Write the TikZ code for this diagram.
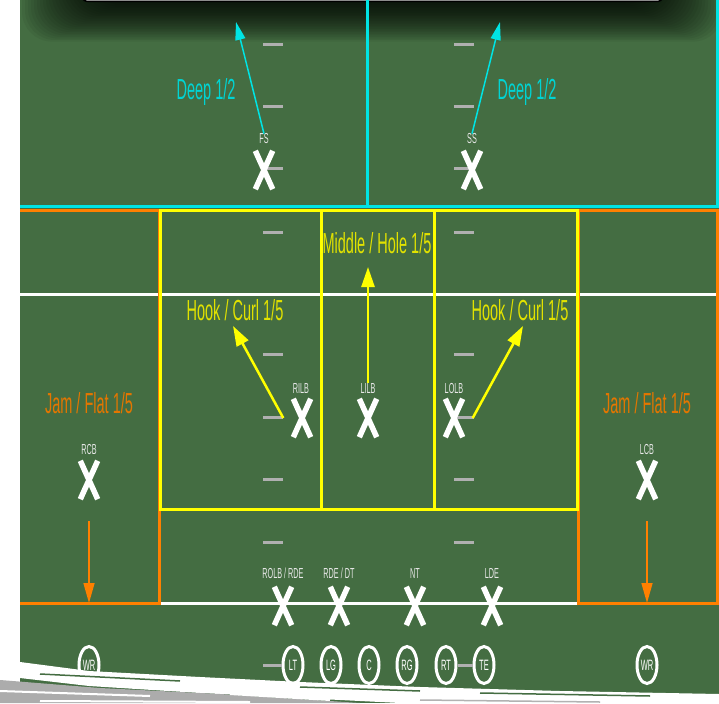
\documentclass[tikz,border=0pt]{standalone}
\usepackage{fontspec}
\setmainfont[FakeStretch=0.5]{Liberation Sans}
\usetikzlibrary{arrows.meta,shapes.geometric}
\definecolor{field}{RGB}{68,109,66}
\definecolor{cyanl}{RGB}{0,228,228}
\definecolor{cyant}{RGB}{0,212,212}
\definecolor{yell}{RGB}{255,255,0}
\definecolor{yelt}{RGB}{226,226,0}
\definecolor{oran}{RGB}{255,128,0}
\definecolor{orant}{RGB}{228,118,0}
\definecolor{hashc}{RGB}{176,176,176}
\definecolor{lblc}{RGB}{232,232,232}
\begin{document}
\begin{tikzpicture}[x=1pt,y=-1pt,
  big/.style={font=\fontsize{29}{30}\selectfont, inner sep=0pt, anchor=base},
  small/.style={font=\fontsize{14.5}{15}\selectfont, text=lblc, inner sep=0pt, anchor=base},
  xline/.style={draw=white, line width=5.5pt},
  xm/.style={inner sep=0pt, minimum width=17pt, minimum height=38pt,
    append after command={(\tikzlastnode.south west) edge[xline] (\tikzlastnode.north east)
      (\tikzlastnode.north west) edge[xline] (\tikzlastnode.south east)}},
  off/.style={ellipse, draw=white, line width=3pt, fill=field, minimum width=20pt,
    minimum height=37pt, inner sep=0pt, font=\fontsize{15}{15}\selectfont, text=white},
  hash/.style={draw=hashc, line width=3pt},
  carrow/.style={draw=cyanl, line width=1.5pt, -{Triangle[length=18pt,width=10pt]}},
  yarrow/.style={draw=yell, line width=2.5pt, -{Triangle[length=20pt,width=13pt]}},
  oarrow/.style={draw=oran, line width=1.5pt, -{Triangle[length=20pt,width=11pt]}},
  zone/.style={line width=3pt}
]
\useasboundingbox (0,0) rectangle (719,703);
\fill[white] (0,0) rectangle (719,703);
\fill[field] (20,0) rectangle (719,703);
% top shadow and banner
\foreach \i in {1,...,26}
  \fill[black, opacity=0.05, rounded corners=30pt] (100-3*\i,-80) rectangle (645+3*\i,1.6*\i);
\draw[black, line width=1.5pt, fill=gray!30, rounded corners=4pt] (83,-20) rectangle (662,1.5);
% zones
\draw[cyanl, zone] (15,-5) rectangle (717,207);
\draw[cyanl, zone] (367,-5) -- (367,207);
\draw[white, zone] (20,294) -- (719,294);
\draw[white, zone] (160,603) -- (578,603);
\draw[oran, zone] (15,211) rectangle (159,603);
\draw[oran, zone] (578,211) rectangle (717,603);
\draw[yell, zone] (160,211) rectangle (577,509);
\draw[yell, zone] (321,211) -- (321,509);
\draw[yell, zone] (434,211) -- (434,509);
\fill[white] (0,0) rectangle (20,650);
% hash marks
\foreach \y in {45,107,169,232,354,417,479,542} {
  \draw[hash] (263,\y) -- (283,\y);
  \draw[hash] (454,\y) -- (474,\y);
}
% safeties
\node[xm] (fs) at (264,170) {};
\node[xm] (ss) at (472,170) {};
\node[small] (fsl) at (264,144) {FS};
\node[small] (ssl) at (472,144) {SS};
\coordinate (fstip) at (236,22);
\coordinate (sstip) at (500,22);
\draw[carrow] (fsl.north) -- (fstip);
\draw[carrow] (ssl.north) -- (sstip);
\node[big, text=cyant] (deepl) at (206,100) {Deep 1/2};
\node[big, text=cyant] (deepr) at (527,100) {Deep 1/2};
% linebackers
\node[xm] (rilb) at (302,418) {};
\node[xm] (lilb) at (368,418) {};
\node[xm] (lolb) at (454,418) {};
\node[small] (rilbl) at (301,393) {RILB};
\node[small] (lilbl) at (368,393) {LILB};
\node[small] (lolbl) at (454,393) {LOLB};
\coordinate (hookl) at (233,326);
\coordinate (hookr) at (523,326);
\coordinate (hole) at (368,267);
\draw[yarrow] ([xshift=-10pt]rilb.west) -- (hookl);
\draw[yarrow] ([xshift=10pt]lolb.east) -- (hookr);
\draw[yarrow] (lilbl.north) -- (hole);
\node[big, text=yelt] (midt) at (377,253) {Middle / Hole 1/5};
\node[big, text=yelt] (hooklt) at (235,320) {Hook / Curl 1/5};
\node[big, text=yelt] (hookrt) at (520,320) {Hook / Curl 1/5};
% corners
\node[xm] (rcb) at (89,480) {};
\node[xm] (lcb) at (647,480) {};
\node[small] (rcbl) at (89,454) {RCB};
\node[small] (lcbl) at (647,454) {LCB};
\coordinate (rcbs) at (89,521);
\coordinate (lcbs) at (647,521);
\coordinate (rcbe) at (89,603);
\coordinate (lcbe) at (647,603);
\draw[oarrow] (rcbs) -- (rcbe);
\draw[oarrow] (lcbs) -- (lcbe);
\node[big, text=orant] (jaml) at (89,413) {Jam / Flat 1/5};
\node[big, text=orant] (jamr) at (647,413) {Jam / Flat 1/5};
% defensive line
\node[xm] (rolb) at (283,606) {};
\node[xm] (rde) at (339,606) {};
\node[xm] (nt) at (415,606) {};
\node[xm] (lde) at (492,606) {};
\node[small] (rolbl) at (283,578) {ROLB / RDE};
\node[small] (rdel) at (339,578) {RDE / DT};
\node[small] (ntl) at (415,578) {NT};
\node[small] (ldel) at (492,578) {LDE};
% offense
\coordinate (ltend) at (263,665);
\node[off] (lt) at (293,665) {LT};
\node[off] (lg) at (331,665) {LG};
\node[off] (c) at (369,665) {C};
\node[off] (rg) at (407,665) {RG};
\node[off] (rt) at (446,665) {RT};
\node[off] (te) at (484,665) {TE};
\node[off] (wrl) at (89,665) {WR};
\node[off] (wrr) at (647,665) {WR};
\draw[hash] (ltend) -- (lt.west);
\draw[hash] (rt.east) -- (te.west);
% brush stroke at bottom
\fill[white] (0,650) -- (20,662) -- (89,671) -- (200,677) -- (300,682) -- (420,687) -- (560,691) -- (719,694)
  -- (719,703) -- (400,703) -- (300,698) -- (200,693) -- (89,686) -- (20,678) -- (0,674) -- cycle;
\fill[gray!65] (0,680) -- (100,688) -- (220,694) -- (330,701) -- (360,703) -- (0,703) -- cycle;
\draw[white, line width=2pt] (0,691) -- (150,696);
\draw[white, line width=2pt] (40,701) -- (250,702);
\draw[white, line width=2pt] (230,694) -- (330,700);
\draw[field, line width=1.5pt] (40,674) -- (180,681);
\draw[field, line width=1.5pt] (300,687) -- (420,691);
\draw[field, line width=1.5pt] (480,693) -- (650,696);
\draw[gray!60, line width=1.5pt] (420,700) -- (600,702);
\end{tikzpicture}
\end{document}
